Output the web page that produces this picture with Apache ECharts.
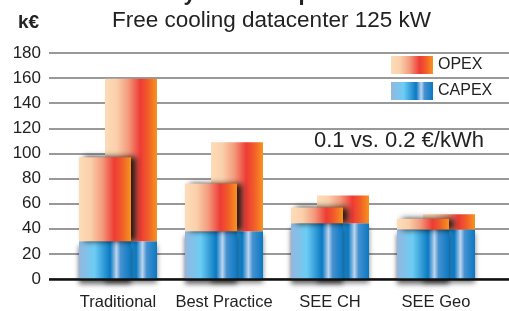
<!DOCTYPE html>
<html>
<head>
<meta charset="utf-8">
<script src="https://cdn.jsdelivr.net/npm/echarts@6/dist/echarts.min.js"></script>
<style>
  html, body { margin: 0; padding: 0; background: #fff; }
  #chart { width: 509px; height: 311px; }
</style>
</head>
<body>
<div id="chart"></div>
<script>
// data (k€)
var categories = ['Traditional', 'Best Practice', 'SEE CH', 'SEE Geo'];
var capex = [30, 38, 44.5, 39.5];
var opexLow = [67, 38, 12.5, 8.5];    // 0.1 €/kWh
var opexHigh = [129.5, 71, 22, 12];   // 0.2 €/kWh
var yTicks = { min: 0, max: 180, interval: 20 };

var font = '"Liberation Sans", Arial, sans-serif';

function opexColor() {
  return new echarts.graphic.LinearGradient(0, 0, 1, 0, [
    { offset: 0, color: '#fddcb8' },
    { offset: 0.22, color: '#fad0ab' },
    { offset: 0.45, color: '#f39a7c' },
    { offset: 0.68, color: '#ee3b35' },
    { offset: 0.82, color: '#f15a2a' },
    { offset: 1, color: '#f7941d' }
  ]);
}
function capexColor() {
  return new echarts.graphic.LinearGradient(0, 0, 1, 0, [
    { offset: 0, color: '#94b6df' },
    { offset: 0.3, color: '#6ccdf4' },
    { offset: 0.6, color: '#0a79c3' },
    { offset: 0.72, color: '#bcd4ee' },
    { offset: 0.8, color: '#4591d0' },
    { offset: 1, color: '#0a78c2' }
  ]);
}

var chart = echarts.init(document.getElementById('chart'));
chart.setOption({
  animation: false,
  title: [{
    text: 'Yearly cost comparison',
    left: 'center',
    top: -22,
    textStyle: { fontFamily: font, fontSize: 22, fontWeight: 'bold', color: '#222' }
  }, {
    text: 'Free cooling datacenter 125 kW',
    left: 107,
    top: 4,
    textStyle: { fontFamily: font, fontSize: 22.5, fontWeight: 'normal', color: '#222' }
  }, {
    text: 'k€',
    left: 13, top: 8,
    textStyle: { fontFamily: font, fontSize: 19, fontWeight: 'bold', color: '#222' }
  }],
  legend: {
    orient: 'vertical',
    left: 391, top: 56, padding: 0,
    icon: 'rect',
    itemWidth: 42, itemHeight: 18, itemGap: 8,
    data: ['OPEX', 'CAPEX'],
    textStyle: { fontFamily: font, fontSize: 16, color: '#222' }
  },
  graphic: [{
    type: 'text',
    left: 314, top: 130,
    style: { text: '0.1 vs. 0.2 €/kWh', font: '22px "Liberation Sans", Arial', fill: '#222' }
  }],
  grid: [
    { left: 49, right: 0, top: 53, bottom: 32 },
    { left: 65, right: 20, top: 53, bottom: 32 }
  ],
  xAxis: [{
    gridIndex: 0, type: 'value', min: 0, max: 1, show: false
  }, {
    gridIndex: 1, type: 'category', data: categories,
    axisLine: { show: false }, axisTick: { show: false },
    axisLabel: { interval: 0, fontFamily: font, fontSize: 16.5, color: '#222', margin: 15 }
  }],
  yAxis: [{
    gridIndex: 0, type: 'value', min: yTicks.min, max: yTicks.max, interval: yTicks.interval,
    axisLine: { show: false }, axisTick: { show: false },
    axisLabel: { fontFamily: font, fontSize: 17, color: '#222', margin: 8 },
    splitLine: { lineStyle: { color: '#999', width: 2 } }
  }, {
    gridIndex: 1, type: 'value', min: yTicks.min, max: yTicks.max, interval: yTicks.interval,
    show: false
  }],
  series: [{
    name: 'CAPEX', type: 'bar', xAxisIndex: 1, yAxisIndex: 1, stack: 'low', z: 4,
    barWidth: 52, barGap: '-50%', data: capex,
    itemStyle: { color: capexColor(), shadowColor: 'rgba(0,0,0,0.6)', shadowBlur: 5, shadowOffsetX: 0, shadowOffsetY: 5 }
  }, {
    name: 'OPEX', type: 'bar', xAxisIndex: 1, yAxisIndex: 1, stack: 'low', z: 4,
    barWidth: 52, barGap: '-50%', data: opexLow,
    itemStyle: { color: opexColor(), shadowColor: 'rgba(0,0,0,0.85)', shadowBlur: 6, shadowOffsetX: 5 }
  }, {
    name: 'CAPEX', type: 'bar', xAxisIndex: 1, yAxisIndex: 1, stack: 'high', z: 3,
    barWidth: 52, barGap: '-50%', data: capex,
    itemStyle: { color: capexColor(), shadowColor: 'rgba(0,0,0,0.5)', shadowBlur: 5, shadowOffsetX: 0, shadowOffsetY: 4 }
  }, {
    name: 'OPEX', type: 'bar', xAxisIndex: 1, yAxisIndex: 1, stack: 'high', z: 3,
    barWidth: 52, barGap: '-50%', data: opexHigh,
    itemStyle: { color: opexColor() }
  }, {
    // baseline
    type: 'line', xAxisIndex: 0, yAxisIndex: 0, z: 6, silent: true,
    data: [], markLine: {
      symbol: 'none', silent: true, label: { show: false },
      lineStyle: { color: '#111', width: 2.5, type: 'solid' },
      data: [{ yAxis: 0 }]
    }
  }]
});
</script>
</body>
</html>
